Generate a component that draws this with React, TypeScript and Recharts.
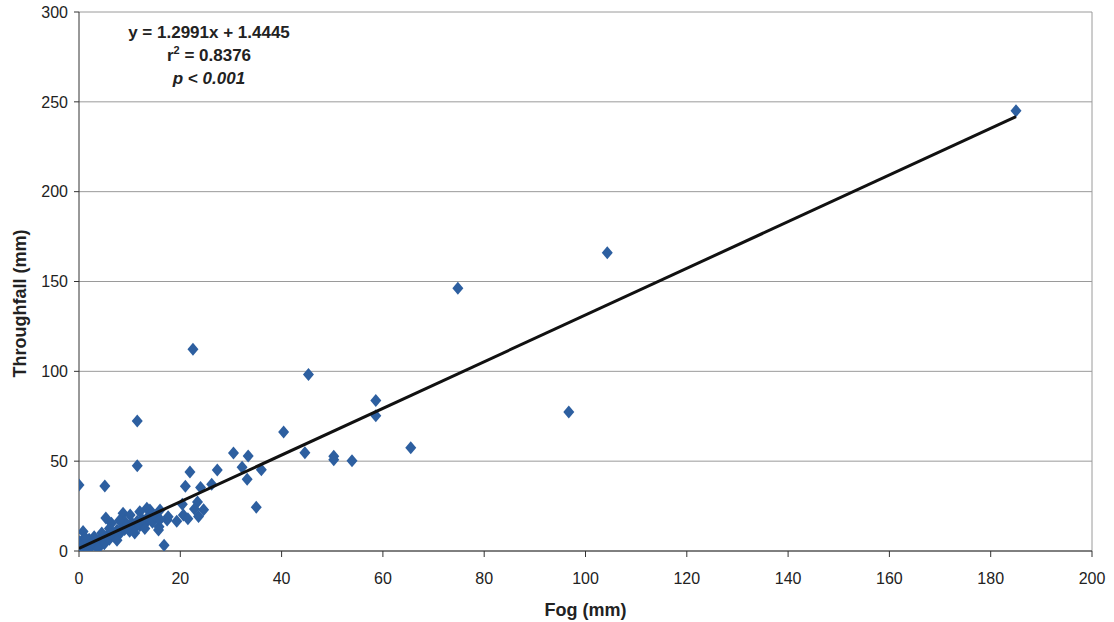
import React from 'react';
import { ScatterChart, Scatter, XAxis, YAxis, CartesianGrid, ReferenceLine, Label } from 'recharts';

const fogValues: number[] = [
  185, 104.3, 74.8, 96.7, 22.5, 45.3, 58.6, 58.6, 65.5, 11.5, 40.4, 11.5, 0, 5.1, 44.6, 50.3, 50.3, 53.9,
  30.5, 33.4, 32.2, 36, 27.3, 21.9, 33.2, 35, 16.8, 5.3, 26.2, 21, 24, 23.4, 24.6, 23.6, 22.8, 20.4, 20.6,
  21.5, 19.3, 17.4, 16, 15.8, 14, 13.4, 12, 14, 8.7, 10.1, 6.4, 17.6, 15.7,
  0.8, 0.2, 0.5, 0, 1, 1.5, 2, 2.5, 3, 3.5, 4, 4.5, 5, 5.5, 6, 6.5, 7, 7.5, 8, 8.5, 9, 9.5, 10, 10.5, 11,
  11.5, 12, 12.5, 13, 13.5, 14.5, 15, 16, 3, 2, 1.2, 7.5, 9, 11, 13, 1.8, 3.8, 4.5, 6, 8,
];
const throughfallValues: number[] = [
  245, 166, 146.3, 77.4, 112.3, 98.2, 83.7, 75.3, 57.5, 72.3, 66.2, 47.5, 36.8, 36.2, 54.7, 52.8, 50.8, 50.2,
  54.6, 52.9, 46.6, 45.2, 45.1, 44, 40, 24.4, 3.2, 18.3, 37.2, 36, 35.3, 27.3, 22.9, 19.2, 23.4, 26, 20,
  18, 16.5, 17.2, 22.8, 13.5, 22.8, 23.8, 21.9, 20, 21, 20, 15.4, 19.1, 11.7,
  10.8, 5.2, 2.4, 0.5, 1, 3, 2, 4.5, 3.5, 6, 5, 7.5, 4, 8.5, 6.5, 10, 8, 11.5, 9.5, 13, 12, 14, 11, 15.5, 13,
  16.5, 14, 17.5, 15, 18.5, 16, 19.5, 17.5, 8, 6.5, 7.5, 6, 16.5, 10, 12.5, 0.5, 1.5, 10, 12.5, 17,
];

const slope = 1.2991;
const intercept = 1.4445;
const trendXs: number[] = [0, 185];

const xTicks: number[] = [0, 20, 40, 60, 80, 100, 120, 140, 160, 180, 200];
const yTicks: number[] = [0, 50, 100, 150, 200, 250, 300];

const points = fogValues.map((x, i) => ({ x, y: throughfallValues[i] }));
const trend = trendXs.map((x) => ({ x, y: slope * x + intercept }));

const MARKER = '#2D5FA0';
const FONT = '"Liberation Sans", Arial, sans-serif';

const Diamond = (props: any) => {
  const { cx, cy } = props;
  if (cx == null || cy == null) return <g />;
  const w = 5.5;
  const h = 6.5;
  return <polygon points={`${cx},${cy - h} ${cx + w},${cy} ${cx},${cy + h} ${cx - w},${cy}`} fill={MARKER} />;
};

const NoShape = () => <g />;

export default function App() {
  return (
    <div style={{ position: 'absolute', left: 0, top: 0, width: 1114, height: 622, background: '#fff', fontFamily: FONT }}>
      <ScatterChart width={1114} height={622} margin={{ top: 12, right: 22, bottom: 0, left: 0 }}>
        <CartesianGrid vertical={false} stroke="#9a9a9a" strokeWidth={1} />
        <XAxis
          type="number"
          dataKey="x"
          domain={[0, 200]}
          ticks={xTicks}
          height={71}
          tickSize={6}
          tickMargin={16}
          stroke="#333"
          tick={{ fill: '#222', fontSize: 16, fontFamily: FONT }}
          allowDataOverflow
        >
          <Label value="Fog (mm)" position="insideBottom" offset={6} style={{ fontWeight: 'bold', fontSize: 18, fill: '#222', fontFamily: FONT }} />
        </XAxis>
        <YAxis
          type="number"
          dataKey="y"
          domain={[0, 300]}
          ticks={yTicks}
          width={79}
          tickSize={5}
          tickMargin={6}
          stroke="#333"
          tick={{ fill: '#222', fontSize: 16, fontFamily: FONT }}
          allowDataOverflow
        >
          <Label value="Throughfall (mm)" angle={-90} position="insideLeft" offset={20} dy={22} style={{ textAnchor: 'middle', fontWeight: 'bold', fontSize: 18, fill: '#222', fontFamily: FONT }} />
        </YAxis>
        <ReferenceLine x={200} stroke="#9a9a9a" strokeWidth={1} />
        <Scatter data={points} shape={Diamond} isAnimationActive={false} />
        <Scatter data={trend} line={{ stroke: '#111', strokeWidth: 3 }} shape={NoShape} isAnimationActive={false} />
      </ScatterChart>
      <div style={{ position: 'absolute', left: 109, top: 21, width: 200, textAlign: 'center', fontWeight: 'bold', fontSize: 17, color: '#222', lineHeight: '23px' }}>
        <div>y = 1.2991x + 1.4445</div>
        <div>r<sup style={{ fontSize: 11, lineHeight: 0 }}>2</sup> = 0.8376</div>
        <div><i>p</i> &lt; <i>0.001</i></div>
      </div>
    </div>
  );
}
